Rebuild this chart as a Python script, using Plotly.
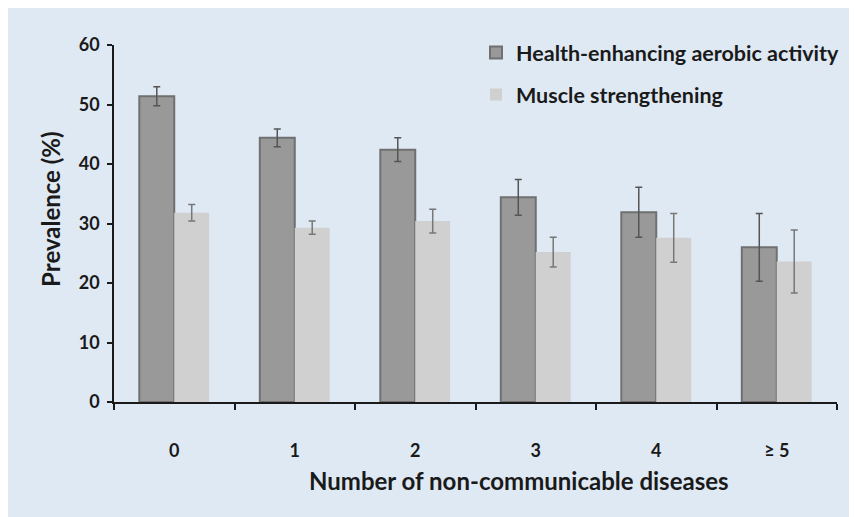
import plotly.graph_objects as go

categories = ["0", "1", "2", "3", "4", "≥ 5"]
aerobic = [51.4, 44.4, 42.4, 34.4, 31.9, 26.0]
aerobic_err = [1.6, 1.5, 2.0, 3.0, 4.2, 5.7]
muscle = [31.8, 29.3, 30.4, 25.2, 27.6, 23.6]
muscle_err = [1.4, 1.1, 2.0, 2.5, 4.1, 5.3]
series_names = ["Health-enhancing aerobic activity", "Muscle strengthening"]

FONT = "Lato, 'Open Sans', sans-serif"
TXT = "#1a1a1a"
BG = "#dfe9f4"

fig = go.Figure()
fig.add_trace(go.Bar(
    x=categories, y=aerobic, name=series_names[0], legendgroup="a",
    marker=dict(color="#999999", line=dict(color="#707070", width=2)),
    error_y=dict(type="data", array=aerobic_err, color="#555555", thickness=1.5, width=3.5),
))
fig.add_trace(go.Bar(
    x=categories, y=muscle, name=series_names[1], legendgroup="b",
    marker=dict(color="#d0d0d0", line=dict(color="#d0d0d0", width=0)),
    error_y=dict(type="data", array=muscle_err, color="#777777", thickness=1.5, width=3.5),
))

fig.add_annotation(text="Prevalence (%)", xref="paper", yref="paper",
                   x=-0.0871, y=0.541, textangle=-90,
                   showarrow=False, font=dict(family=FONT, size=24, color=TXT, weight="bold"),
                   xanchor="center", yanchor="middle")
fig.add_annotation(text="Number of non-communicable diseases", xref="paper", yref="paper",
                   x=0.560, y=-0.220,
                   showarrow=False, font=dict(family=FONT, size=24, color=TXT, weight="bold"),
                   xanchor="center", yanchor="middle")

fig.update_layout(
    width=857, height=517,
    margin=dict(l=106, r=28, t=37, b=123, autoexpand=False),
    paper_bgcolor=BG, plot_bgcolor=BG,
    barmode="group", bargap=0.42, bargroupgap=0,
    font=dict(family=FONT, color=TXT),
    showlegend=True,
    legend=dict(x=0.5007, y=1.036, xanchor="left", yanchor="top",
                bgcolor="rgba(0,0,0,0)",
                font=dict(family=FONT, size=21.5, color=TXT, weight="bold"),
                itemwidth=30, tracegroupgap=11, traceorder="grouped"),
)
fig.update_xaxes(
    type="category", showline=True, linecolor="#1a1a1a", linewidth=1.5,
    ticks="outside", tickson="boundaries", ticklen=6, tickwidth=1.5, tickcolor="#1a1a1a",
    showgrid=False, zeroline=False,
    tickfont=dict(family=FONT, size=18, color=TXT, weight="bold"), ticklabelstandoff=32,
)
fig.update_yaxes(
    range=[0, 60], tickvals=[0, 10, 20, 30, 40, 50, 60],
    showline=True, linecolor="#1a1a1a", linewidth=1.5,
    ticks="outside", ticklen=5, tickwidth=1.5, tickcolor="#1a1a1a",
    showgrid=False, zeroline=False,
    tickfont=dict(family=FONT, size=18, color=TXT, weight="bold"), ticklabelstandoff=4,
)

fig.write_html("out.html")
